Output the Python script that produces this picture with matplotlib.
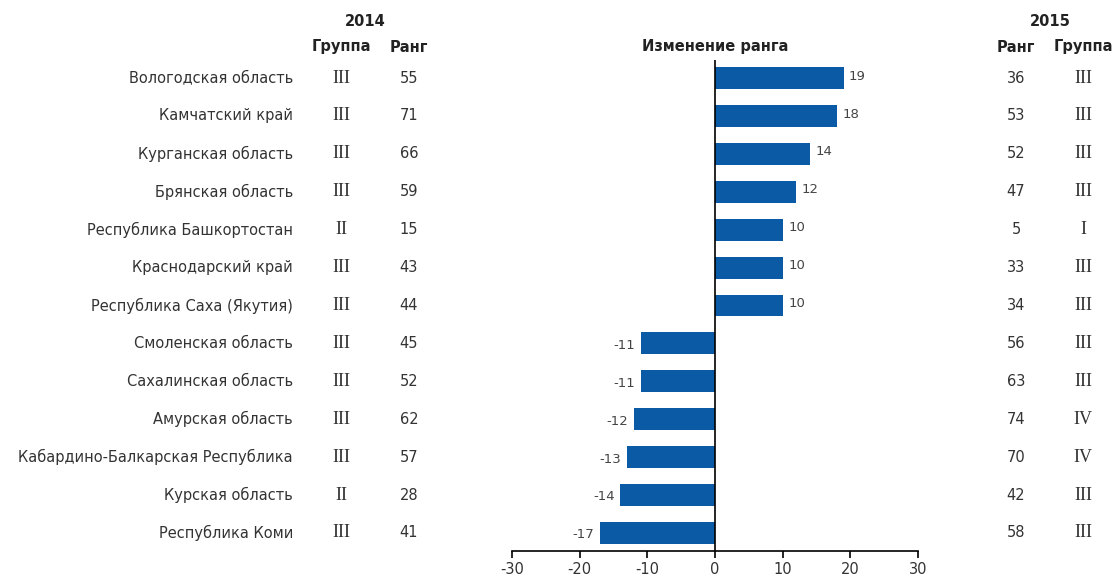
import matplotlib.pyplot as plt
import matplotlib.transforms as mtransforms

regions = ["Вологодская область", "Камчатский край", "Курганская область",
           "Брянская область", "Республика Башкортостан", "Краснодарский край",
           "Республика Саха (Якутия)", "Смоленская область", "Сахалинская область",
           "Амурская область", "Кабардино-Балкарская Республика", "Курская область",
           "Республика Коми"]
group_2014 = ["III", "III", "III", "III", "II", "III", "III", "III", "III", "III", "III", "II", "III"]
rank_2014 = [55, 71, 66, 59, 15, 43, 44, 45, 52, 62, 57, 28, 41]
rank_change = [19, 18, 14, 12, 10, 10, 10, -11, -11, -12, -13, -14, -17]
rank_2015 = [36, 53, 52, 47, 5, 33, 34, 56, 63, 74, 70, 42, 58]
group_2015 = ["III", "III", "III", "III", "I", "III", "III", "III", "III", "IV", "IV", "III", "III"]
x_ticks = [-30, -20, -10, 0, 10, 20, 30]

sans = ['DejaVu Sans']
serif = ['Liberation Serif', 'DejaVu Serif']
dark = '#333333'
blue = '#0a5aa5'

W, H = 1116, 578
fig = plt.figure(figsize=(W / 100, H / 100), dpi=100)
ax = fig.add_axes([512 / W, (H - 551) / H, 406 / W, 491 / H])

y = list(range(len(regions)))
ax.barh(y, rank_change, height=0.58, color=blue)
ax.set_xlim(-30, 30)
ax.set_ylim(12.475, -0.475)
ax.axvline(0, color='black', lw=1.2)
for s in ['top', 'right', 'left']:
    ax.spines[s].set_visible(False)
ax.spines['bottom'].set_linewidth(1.2)
ax.set_yticks([])
ax.set_xticks(x_ticks)
ax.set_xticklabels([str(t) for t in x_ticks], family=sans, fontsize=10.5, color=dark)
ax.tick_params(axis='x', direction='out', length=5, width=1.2, pad=3)

for yi, v in zip(y, rank_change):
    if v > 0:
        ax.text(v + 0.8, yi - 0.05, str(v), ha='left', va='center', fontsize=9.5, family=sans, color='#444444')
    else:
        ax.text(v - 0.8, yi + 0.05, str(v), ha='right', va='center', fontsize=9.5, family=sans, color='#444444')

tr = mtransforms.blended_transform_factory(fig.transFigure, ax.transData)
for yi in y:
    ax.text(293 / W, yi, regions[yi], transform=tr, ha='right', va='center', fontsize=10.5, family=sans, color=dark)
    ax.text(341 / W, yi, group_2014[yi], transform=tr, ha='center', va='center', fontsize=13, family=serif, color=dark)
    ax.text(409 / W, yi, str(rank_2014[yi]), transform=tr, ha='center', va='center', fontsize=10.5, family=sans, color=dark)
    ax.text(1016 / W, yi, str(rank_2015[yi]), transform=tr, ha='center', va='center', fontsize=10.5, family=sans, color=dark)
    ax.text(1083 / W, yi, group_2015[yi], transform=tr, ha='center', va='center', fontsize=13, family=serif, color=dark)

def header(x, yp, s):
    fig.text(x / W, 1 - yp / H, s, ha='center', va='center', fontsize=10.5, fontweight='bold', family=sans, color='#222222')

header(365, 22, "2014")
header(341, 47, "Группа")
header(409, 47, "Ранг")
header(715, 47, "Изменение ранга")
header(1050, 22, "2015")
header(1016, 47, "Ранг")
header(1083, 47, "Группа")

fig.savefig("out.png", dpi=100)
